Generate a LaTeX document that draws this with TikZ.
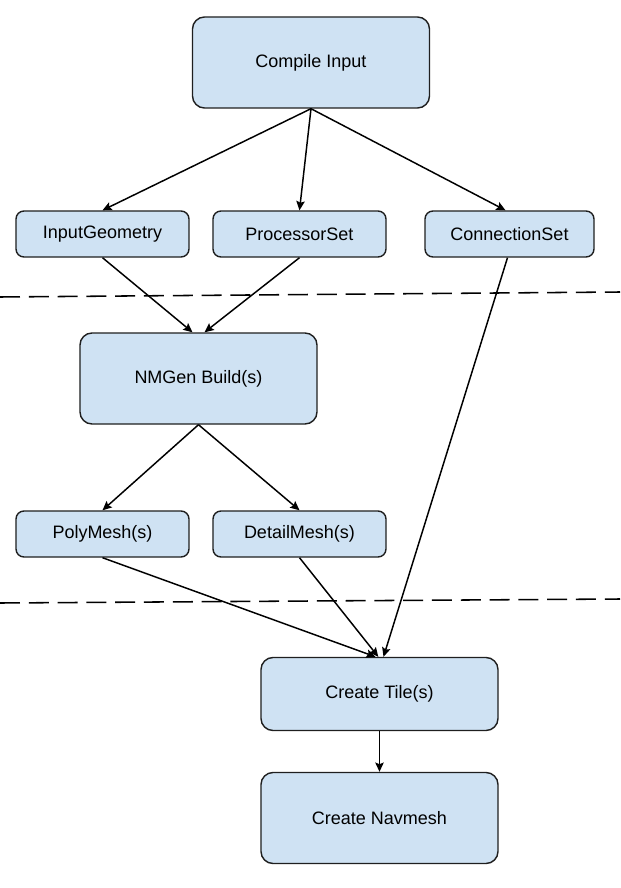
\documentclass[tikz,border=0pt]{standalone}
\usepackage{fontspec}
\setmainfont{Liberation Sans}
\usepackage{tikz}
\usetikzlibrary{positioning, arrows, arrows.meta}
\definecolor{boxblue}{HTML}{CFE2F3}
\definecolor{boxline}{HTML}{1F1F1F}
\tikzstyle{bigbox} = [rectangle, rounded corners=0.3cm, minimum width=5.925cm, minimum height=2.275cm, inner sep=0pt, text centered, draw=boxline, line width=1pt, fill=boxblue]
\tikzstyle{smallbox} = [rectangle, rounded corners=0.2cm, minimum width=4.325cm, minimum height=1.15cm, inner sep=0pt, text centered, draw=boxline, line width=1pt, fill=boxblue]
\tikzstyle{arrow} = [line width=1.05pt,->,>={Stealth[length=2.3mm, width=2.1mm, inset=0.4mm]}]
\tikzstyle{divider} = [line width=1.1pt, dash pattern=on 0.5cm off 0.22cm]

\begin{document}
\begin{tikzpicture}[node distance=4cm, font=\fontsize{12.8}{15}\selectfont]
	\useasboundingbox (-7.775,1.5625) rectangle (7.725,-20.6375);

	\node (compile) [bigbox] {Compile Input};
	\node (procset) [smallbox, below of=compile, xshift=-0.2875cm, yshift=-0.2875cm] {ProcessorSet};
	\node (inputgeo) [smallbox, left of=procset, xshift=-0.925cm] {InputGeometry};
	\node (connset) [smallbox, right of=procset, xshift=1.25cm, minimum width=4.225cm] {ConnectionSet};
	\node (nmgen) [bigbox, below of=inputgeo, xshift=2.4cm, yshift=0.3875cm] {NMGen Build(s)};
	\node (polymesh) [smallbox, below of=nmgen, xshift=-2.4cm, yshift=0.1125cm] {PolyMesh(s)};
	\node (detailmesh) [smallbox, right of=polymesh, xshift=0.925cm] {DetailMesh(s)};
	\node (createtile) [bigbox, below of=detailmesh, xshift=2cm, minimum height=1.825cm] {Create Tile(s)};
	\node (navmesh) [bigbox, below of=createtile, yshift=0.9cm] {Create Navmesh};

	% stage dividers
	\draw [divider] (-7.775,-5.8625) -- (7.725,-5.7375);
	\draw [divider] (-7.775,-13.5125) -- (7.725,-13.4125);

	\draw [arrow] (compile.south) -- (inputgeo.north);
	\draw [arrow] (compile.south) -- (procset.north);
	\draw [arrow] (compile.south) -- ([xshift=-0.1cm]connset.north);
	\draw [arrow] (inputgeo.south) -- ([xshift=-0.15cm]nmgen.north);
	\draw [arrow] (procset.south) -- ([xshift=0.15cm]nmgen.north);
	\draw [arrow] (nmgen.south) -- (polymesh.north);
	\draw [arrow] (nmgen.south) -- (detailmesh.north);
	\draw [arrow] (polymesh.south) -- ([xshift=-0.1cm]createtile.north);
	\draw [arrow] (detailmesh.south) -- ([xshift=-0.03cm]createtile.north);
	\draw [arrow] ([xshift=-0.05cm]connset.south) -- ([xshift=0.1cm]createtile.north);
	\draw [arrow] (createtile) -- (navmesh);
\end{tikzpicture}
\end{document}
